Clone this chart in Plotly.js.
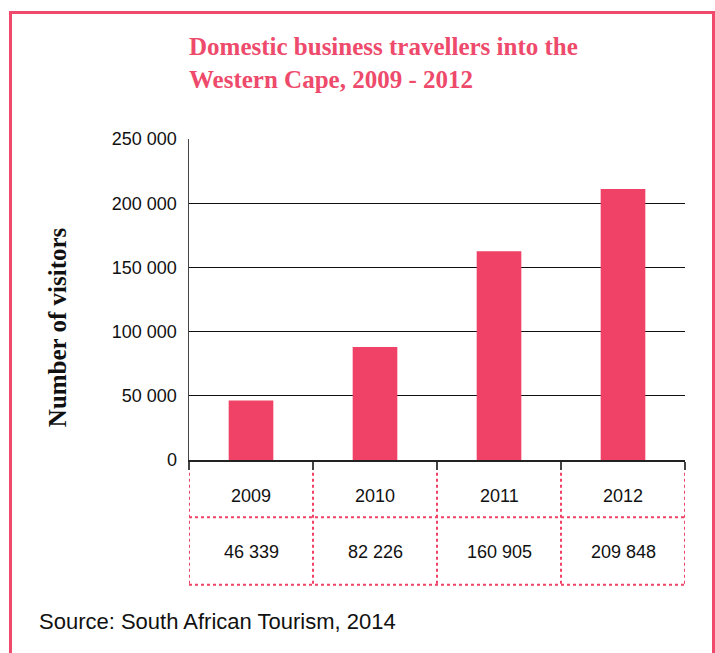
<!DOCTYPE html>
<html>
<head>
<meta charset="utf-8">
<script src="https://cdn.plot.ly/plotly-3.0.1.min.js"></script>
<style>
	body { margin: 0; background: #fff; }
	#frame { position: absolute; left: 9px; top: 11px; width: 700px; height: 660px;
		border: 3px solid #ef4a6c; border-bottom: none; pointer-events: none; }
	#graph { position: absolute; left: 0; top: 0; width: 715px; height: 653px; }
</style>
</head>
<body>
<div id="graph"></div>
<div id="frame"></div>
<script>
var years = ['2009', '2010', '2011', '2012'];
// bar heights as drawn in the picture
var visitors = [46339, 88000, 162500, 211000];
// figures printed in the table under the axis
var tableValues = ['46 339', '82 226', '160 905', '209 848'];
var yTicks = [0, 50000, 100000, 150000, 200000, 250000];

var pink = '#ef4266';
var sans = 'Liberation Sans, Arial, sans-serif';
var serif = 'Liberation Serif, Times New Roman, serif';

// one slot per year on a linear axis
var slots = years.map(function (y, i) { return i; });
var bounds = [];
for (var b = 0; b <= years.length; b++) bounds.push(b - 0.5);

var trace1 = {
	x: slots,
	y: visitors,
	type: 'bar',
	marker: { color: pink },
	hoverinfo: 'none'
};

// table below the x axis: dotted pink rules
var shapes = [];
var yTop = -0.04, yMid = -0.178, yBot = -0.389;
bounds.forEach(function (xb) {
	shapes.push({
		type: 'line', xref: 'x', yref: 'paper',
		x0: xb, x1: xb, y0: yTop, y1: yBot,
		line: { color: pink, width: 2, dash: 'dot' }
	});
});
[yMid, yBot].forEach(function (yy) {
	shapes.push({
		type: 'line', xref: 'x', yref: 'paper',
		x0: bounds[0], x1: bounds[bounds.length - 1], y0: yy, y1: yy,
		line: { color: pink, width: 2, dash: 'dot' }
	});
});

var annotations = [];
for (var j = 0; j < years.length; j++) {
	annotations.push({
		x: slots[j], y: -0.112, xref: 'x', yref: 'paper',
		xanchor: 'center', yanchor: 'middle',
		text: years[j], showarrow: false,
		font: { family: sans, size: 18, color: '#111' }
	});
	annotations.push({
		x: slots[j], y: -0.287, xref: 'x', yref: 'paper',
		xanchor: 'center', yanchor: 'middle',
		text: tableValues[j], showarrow: false,
		font: { family: sans, size: 18, color: '#111' }
	});
}
annotations.push({
	x: -0.266, y: 0.414, xref: 'paper', yref: 'paper',
	xanchor: 'center', yanchor: 'middle',
	text: '<b>Number of visitors</b>', textangle: -90, showarrow: false,
	font: { family: serif, size: 25, color: '#111' }
});
annotations.push({
	x: (37 - 189) / 496, y: (460 - 621) / 321, xref: 'paper', yref: 'paper',
	text: 'Source: South African Tourism, 2014', showarrow: false,
	xanchor: 'left', yanchor: 'middle',
	font: { family: sans, size: 22, color: '#111' }
});

var layout = {
	width: 715,
	height: 653,
	margin: { l: 189, r: 30, t: 139, b: 193 },
	paper_bgcolor: 'rgba(0,0,0,0)',
	plot_bgcolor: 'rgba(0,0,0,0)',
	separators: '. ',
	bargap: 0.64,
	showlegend: false,
	title: {
		text: '<b>Domestic business travellers into the<br>Western Cape, 2009 - 2012</b>',
		font: { family: serif, size: 25, color: '#ee4a6b' },
		x: 0, xref: 'paper', xanchor: 'left',
		y: 1 - 55 / 653, yref: 'container', yanchor: 'top'
	},
	xaxis: {
		range: [bounds[0], bounds[bounds.length - 1]],
		tickvals: bounds,
		ticks: 'outside',
		ticklen: 8,
		tickwidth: 1.5,
		tickcolor: '#444',
		showticklabels: false,
		showgrid: false,
		zeroline: false,
		showline: true,
		linecolor: '#222',
		linewidth: 1.5
	},
	yaxis: {
		range: [0, 250000],
		tickvals: yTicks,
		tickformat: ',d',
		ticks: '',
		showgrid: true,
		gridcolor: '#111',
		gridwidth: 1,
		zeroline: false,
		showline: true,
		linecolor: '#444',
		linewidth: 1.5,
		ticklabelstandoff: 7,
		tickfont: { family: sans, size: 18, color: '#111' }
	},
	shapes: shapes,
	annotations: annotations
};

Plotly.newPlot('graph', [trace1], layout, { staticPlot: true });
</script>
</body>
</html>
